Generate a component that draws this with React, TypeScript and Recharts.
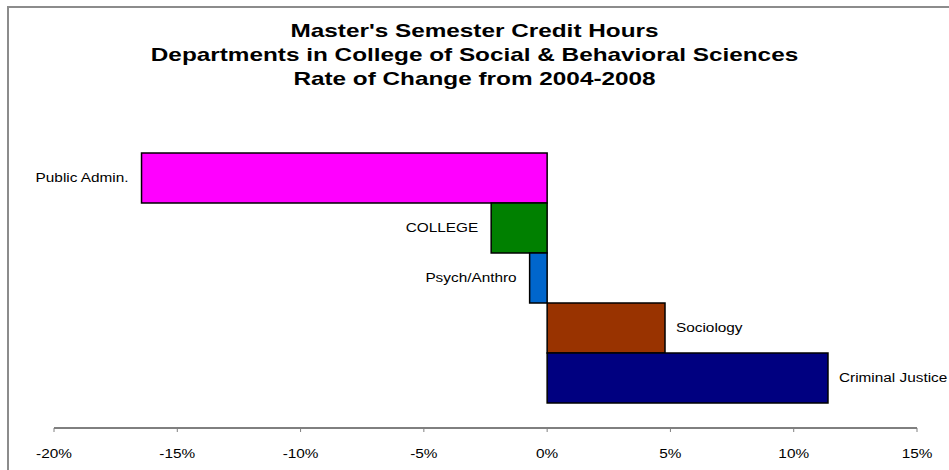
import React from "react"
import { BarChart, Bar, XAxis, YAxis, Cell, LabelList } from "recharts"

// departments, top to bottom
const departments = ["Public Admin.", "COLLEGE", "Psych/Anthro", "Sociology", "Criminal Justice"]
// rate of change 2004-2008, in percent
const rateOfChange = [-16.45, -2.27, -0.71, 4.78, 11.39]
const barColors = ["#FF00FF", "#008000", "#0066CC", "#993300", "#000080"]
const xTicks = [-20, -15, -10, -5, 0, 5, 10, 15]
const titleLines = [
  "Master's Semester Credit Hours",
  "Departments in College of Social & Behavioral Sciences",
  "Rate of Change from 2004-2008",
]

const FONT = '"Liberation Sans", Arial, sans-serif'
// the original picture is stretched sideways, so text is too
const STRETCH = 1.28

const chartData = departments.map((name, i) => ({ name, value: rateOfChange[i] }))

const EndLabel = (props: any) => {
  const { x, y, width, height, index, value } = props
  const left = Math.min(x, x + width)
  const right = Math.max(x, x + width)
  const neg = rateOfChange[index] < 0
  const tx = neg ? left - 13 : right + 11
  const ty = y + height / 2
  return (
    <text
      transform={`translate(${tx},${ty}) scale(${STRETCH},1)`}
      dy="0.35em"
      textAnchor={neg ? "end" : "start"}
      fontSize={12}
      fontFamily={FONT}
      fill="#000"
    >
      {value}
    </text>
  )
}

const PctTick = (props: any) => {
  const { x, y, payload } = props
  return (
    <text
      transform={`translate(${x},${y}) scale(${STRETCH},1)`}
      dy="0.71em"
      textAnchor="middle"
      fontSize={12}
      fontFamily={FONT}
      fill="#000"
    >
      {payload.value}%
    </text>
  )
}

export default function App() {
  return (
    <div style={{ position: "absolute", left: 0, top: 0, width: 949, height: 470, overflow: "hidden", background: "#fff" }}>
      <div
        style={{
          position: "absolute",
          left: 7,
          top: 6,
          width: 1000,
          height: 600,
          borderLeft: "2px solid #8c8c8c",
          borderTop: "2px solid #8c8c8c",
        }}
      />
      <div
        style={{
          position: "absolute",
          left: 0,
          top: 19,
          width: 949,
          textAlign: "center",
          fontFamily: FONT,
          fontWeight: "bold",
          fontSize: 19,
          lineHeight: "24px",
          color: "#000",
        }}
      >
        {titleLines.map((t) => (
          <div key={t} style={{ transform: `scaleX(${STRETCH})` }}>
            {t}
          </div>
        ))}
      </div>
      <div style={{ position: "absolute", left: 0, top: 0 }}>
        <BarChart
          width={949}
          height={470}
          data={chartData}
          layout="vertical"
          barCategoryGap={0}
          margin={{ top: 153, right: 32, left: 54, bottom: 12 }}
        >
          <XAxis
            type="number"
            domain={[-20, 15]}
            ticks={xTicks}
            axisLine={{ stroke: "#000", strokeWidth: 1 }}
            tickLine={{ stroke: "#808080" }}
            tickSize={4}
            tickMargin={17}
            height={30}
            tick={<PctTick />}
            interval={0}
          />
          <YAxis type="category" dataKey="name" hide padding={{ top: 0, bottom: 25 }} />
          <Bar dataKey="value" stroke="#000" strokeWidth={1.5} isAnimationActive={false}>
            {chartData.map((d, i) => (
              <Cell key={d.name} fill={barColors[i]} />
            ))}
            <LabelList dataKey="name" content={EndLabel} />
          </Bar>
        </BarChart>
      </div>
    </div>
  )
}
